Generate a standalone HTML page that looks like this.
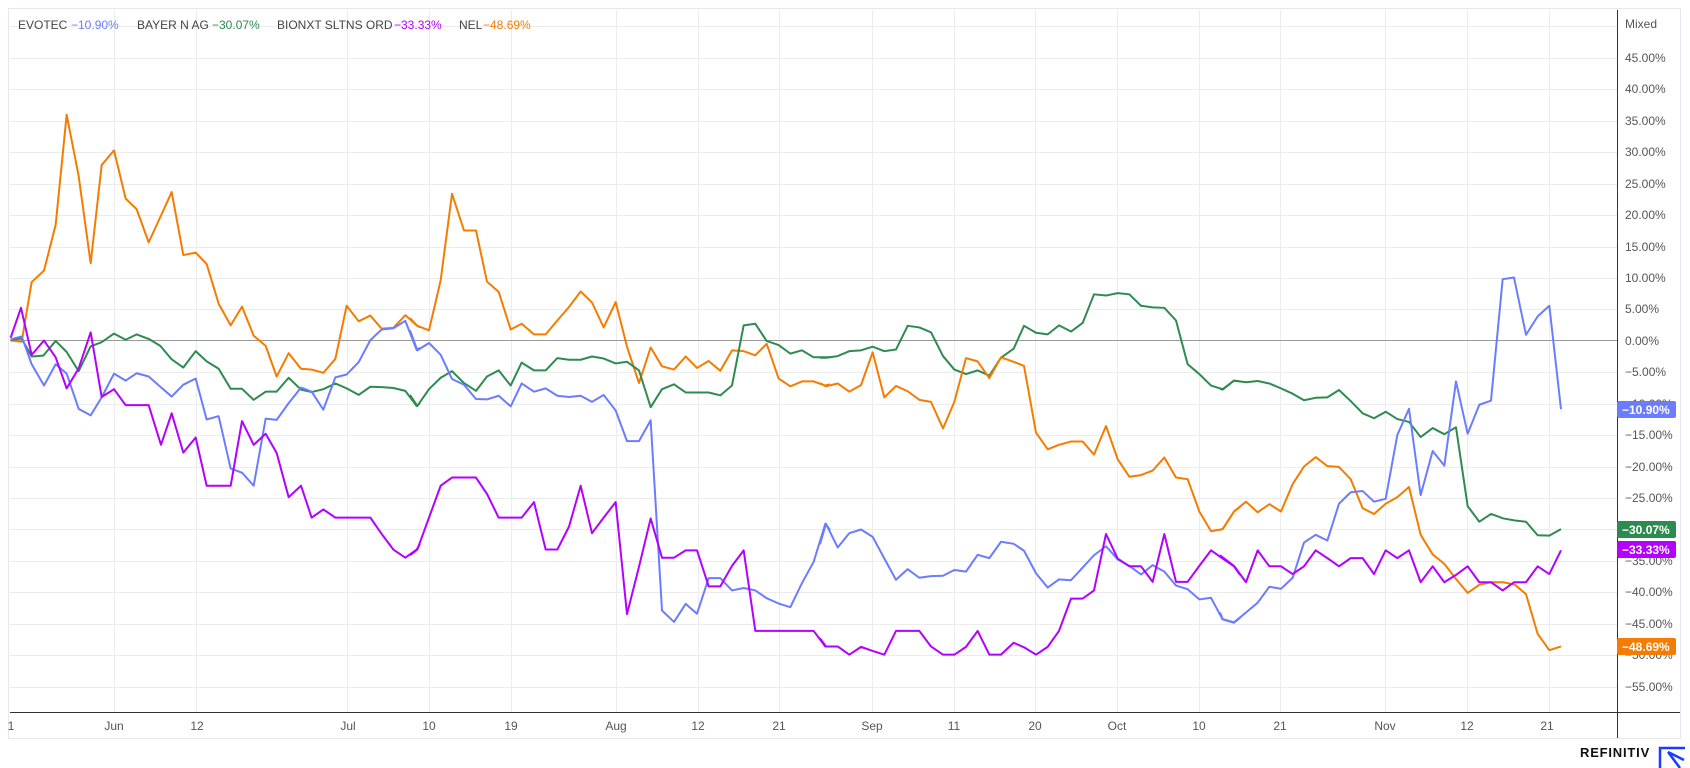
<!DOCTYPE html>
<html><head><meta charset="utf-8"><style>
html,body{margin:0;padding:0;background:#fff;}
svg{display:block;font-family:"Liberation Sans",sans-serif;}
.ser{fill:none;stroke-width:2;stroke-linejoin:round;vector-effect:non-scaling-stroke;}
</style></head><body>
<svg width="1690" height="768" viewBox="0 0 1690 768" xmlns="http://www.w3.org/2000/svg">
<rect x="8.5" y="8.5" width="1672" height="730" fill="#fff" stroke="#e6e6ec"/>
<g stroke="#ececec" stroke-width="1">
<line x1="10" x2="1617" y1="58.5" y2="58.5"/><line x1="10" x2="1617" y1="89.5" y2="89.5"/><line x1="10" x2="1617" y1="121.5" y2="121.5"/><line x1="10" x2="1617" y1="152.5" y2="152.5"/><line x1="10" x2="1617" y1="184.5" y2="184.5"/><line x1="10" x2="1617" y1="215.5" y2="215.5"/><line x1="10" x2="1617" y1="247.5" y2="247.5"/><line x1="10" x2="1617" y1="278.5" y2="278.5"/><line x1="10" x2="1617" y1="309.5" y2="309.5"/><line x1="10" x2="1617" y1="372.5" y2="372.5"/><line x1="10" x2="1617" y1="404.5" y2="404.5"/><line x1="10" x2="1617" y1="435.5" y2="435.5"/><line x1="10" x2="1617" y1="467.5" y2="467.5"/><line x1="10" x2="1617" y1="498.5" y2="498.5"/><line x1="10" x2="1617" y1="529.5" y2="529.5"/><line x1="10" x2="1617" y1="561.5" y2="561.5"/><line x1="10" x2="1617" y1="592.5" y2="592.5"/><line x1="10" x2="1617" y1="624.5" y2="624.5"/><line x1="10" x2="1617" y1="655.5" y2="655.5"/><line x1="10" x2="1617" y1="687.5" y2="687.5"/>
<line x1="10" x2="1617" y1="26.5" y2="26.5"/>
<line x1="114.5" x2="114.5" y1="10" y2="712"/><line x1="196.5" x2="196.5" y1="10" y2="712"/><line x1="347.5" x2="347.5" y1="10" y2="712"/><line x1="429.5" x2="429.5" y1="10" y2="712"/><line x1="511.5" x2="511.5" y1="10" y2="712"/><line x1="616.5" x2="616.5" y1="10" y2="712"/><line x1="698.5" x2="698.5" y1="10" y2="712"/><line x1="779.5" x2="779.5" y1="10" y2="712"/><line x1="872.5" x2="872.5" y1="10" y2="712"/><line x1="954.5" x2="954.5" y1="10" y2="712"/><line x1="1035.5" x2="1035.5" y1="10" y2="712"/><line x1="1117.5" x2="1117.5" y1="10" y2="712"/><line x1="1199.5" x2="1199.5" y1="10" y2="712"/><line x1="1280.5" x2="1280.5" y1="10" y2="712"/><line x1="1385.5" x2="1385.5" y1="10" y2="712"/><line x1="1467.5" x2="1467.5" y1="10" y2="712"/><line x1="1549.5" x2="1549.5" y1="10" y2="712"/>
</g>
<line x1="10" x2="1617" y1="340.5" y2="340.5" stroke="#9a9a9a"/>
<line x1="10" x2="1680" y1="712.5" y2="712.5" stroke="#333"/>
<line x1="1617.5" x2="1617.5" y1="10" y2="738" stroke="#333"/>

<g transform="translate(0,80) scale(0.33333,0.409)">
<polyline class="ser" stroke="#f57c00" points="32,637 65,640 95,494 132,466 167,354 200,85 236,235 272,448 305,208 342,172 377,290 410,316 446,397 481,335 515,274 550,428 587,422 620,450 656,547 692,600 726,554 761,625 797,650 830,725 866,668 903,706 935,708 970,716 1006,682 1040,552 1076,590 1111,576 1145,608 1180,606 1216,575 1250,600 1260,605"/>
<polyline class="ser" stroke="#2e8b50" points="32,635 65,632 95,676 130,674 167,638 200,665 236,712 272,651 305,641 342,620 377,635 410,622 446,633 481,650 515,683 550,703 587,663 620,688 656,706 692,755 726,755 761,782 797,762 830,762 866,728 903,757 935,763 970,756 1006,742 1040,754 1076,770 1111,750 1145,751 1180,753 1216,760 1250,797 1260,790"/>
<polyline class="ser" stroke="#6b7cff" points="32,634 65,627 95,695 132,747 167,695 200,718 236,804 272,820 305,776 342,718 377,735 410,717 446,725 481,750 515,774 550,745 587,730 620,830 656,822 692,950 726,960 761,992 797,828 830,831 866,790 903,752 935,762 970,806 1006,727 1040,720 1076,690 1111,636 1145,610 1180,607 1216,589 1250,660 1260,655"/>
<polyline class="ser" stroke="#b300ff" points="32,630 63,557 95,672 132,637 167,678 200,754 236,705 272,617 305,775 342,756 377,795 410,795 446,795 483,892 515,815 550,911 587,874 620,992 656,992 692,992 726,834 761,892 797,865 830,912 866,1020 903,992 935,1070 970,1050 1006,1070 1040,1070 1076,1070 1111,1070 1145,1110 1180,1148 1216,1168 1250,1148 1260,1135"/>
</g>
<g transform="translate(410,80) scale(0.33333,0.409)">
<polyline class="ser" stroke="#f57c00" points="0,582 22,601 57,612 92,490 126,278 162,368 198,368 231,493 266,518 302,610 335,596 372,622 407,622 442,588 477,555 512,517 546,544 581,605 617,543 651,652 687,741 722,654 756,700 792,708 827,676 861,704 896,687 931,711 966,661 1001,663 1036,673 1070,645 1106,730 1141,749 1176,737 1211,737 1246,747 1260,744"/>
<polyline class="ser" stroke="#2e8b50" points="0,770 22,797 57,756 92,728 126,712 162,741 198,760 231,725 266,710 302,747 335,691 372,710 407,710 442,680 477,684 512,684 546,676 581,681 617,693 651,689 687,710 722,800 756,756 792,744 827,764 861,764 896,764 931,771 966,747 1001,600 1036,596 1070,638 1106,648 1141,669 1176,661 1211,678 1246,678 1260,678"/>
<polyline class="ser" stroke="#6b7cff" points="0,612 22,661 57,643 92,672 126,731 162,745 198,780 231,781 266,772 302,798 335,742 372,762 407,754 442,772 477,775 512,772 546,787 581,770 617,808 651,883 687,883 722,832 756,1297 792,1325 827,1281 861,1305 896,1218 931,1218 966,1248 1001,1242 1036,1248 1070,1267 1106,1280 1141,1289 1176,1230 1211,1178 1246,1085 1260,1100"/>
<polyline class="ser" stroke="#b300ff" points="0,1162 22,1148 57,1070 92,992 126,972 162,972 198,972 231,1012 266,1070 302,1070 335,1070 372,1032 407,1148 442,1148 477,1092 512,992 546,1108 581,1070 617,1032 651,1306 687,1190 722,1072 756,1168 792,1168 827,1150 861,1150 896,1238 931,1238 966,1188 1001,1150 1036,1347 1070,1347 1106,1347 1141,1347 1176,1347 1211,1347 1246,1385 1260,1385"/>
</g>
<g transform="translate(820,80) scale(0.33333,0.409)">
<polyline class="ser" stroke="#2e8b50" points="0,679 18,679 53,675 88,663 123,661 158,652 193,663 228,659 263,601 298,605 333,617 369,675 403,708 438,719 473,710 508,723 543,679 581,657 612,601 648,618 683,622 717,600 753,615 788,594 822,524 858,527 893,521 928,524 963,552 998,556 1033,557 1068,588 1103,695 1138,719 1173,747 1208,756 1242,735 1260,737"/>
<polyline class="ser" stroke="#f57c00" points="0,741 18,749 53,742 88,762 123,746 158,666 193,776 228,748 263,761 298,782 333,787 369,852 403,787 438,680 473,688 508,729 543,678 581,689 612,699 648,862 683,903 717,892 753,884 788,884 822,916 858,846 893,927 928,970 963,966 998,955 1033,923 1068,972 1103,976 1138,1055 1173,1103 1208,1098 1242,1055 1260,1044"/>
<polyline class="ser" stroke="#6b7cff" points="0,1135 18,1085 53,1143 88,1108 123,1099 158,1117 193,1170 228,1222 263,1196 298,1217 333,1213 369,1212 403,1198 438,1202 473,1161 508,1169 543,1129 581,1134 612,1151 648,1206 683,1241 717,1221 753,1223 788,1192 822,1162 858,1140 893,1172 928,1188 963,1209 998,1186 1033,1202 1068,1236 1103,1245 1138,1270 1173,1266 1208,1319 1242,1327 1260,1315"/>
<polyline class="ser" stroke="#b300ff" points="0,1365 18,1385 53,1385 88,1405 123,1386 158,1396 193,1405 228,1347 263,1347 298,1347 333,1385 369,1405 403,1405 438,1386 473,1347 508,1405 543,1405 581,1376 612,1387 648,1405 683,1386 717,1347 753,1268 788,1268 822,1248 858,1110 893,1170 928,1189 963,1189 998,1227 1033,1110 1068,1227 1103,1227 1138,1188 1173,1150 1208,1170 1242,1189 1260,1210"/>
</g>
<g transform="translate(1220,80) scale(0.33333,0.409)">
<polyline class="ser" stroke="#2e8b50" points="0,755 8,757 42,735 78,739 113,736 148,742 183,754 218,767 252,783 287,777 322,776 357,758 392,785 428,815 462,827 497,811 532,829 567,836 602,873 638,851 673,866 708,849 743,1042 778,1080 813,1061 850,1072 885,1077 918,1080 953,1113 988,1114 1023,1098"/>
<polyline class="ser" stroke="#f57c00" points="0,1100 8,1098 42,1055 78,1031 113,1057 148,1037 183,1055 218,988 252,945 287,922 322,944 357,946 392,976 428,1047 462,1061 497,1036 532,1020 567,995 602,1112 638,1160 673,1183 708,1220 743,1254 778,1234 813,1228 850,1228 885,1234 918,1257 953,1354 988,1394 1023,1385"/>
<polyline class="ser" stroke="#6b7cff" points="0,1302 8,1318 42,1326 78,1302 113,1278 148,1239 183,1244 218,1217 252,1131 287,1112 322,1126 357,1036 392,1008 428,1005 462,1031 497,1024 532,868 567,804 602,1015 638,907 673,943 708,737 743,865 778,794 813,784 848,487 882,483 918,623 953,578 988,552 1023,805"/>
<polyline class="ser" stroke="#b300ff" points="0,1162 8,1167 42,1188 78,1228 113,1150 148,1189 183,1189 218,1208 252,1189 287,1150 322,1169 357,1189 392,1169 428,1169 462,1208 497,1150 532,1169 567,1150 602,1228 638,1189 673,1228 708,1210 743,1189 778,1228 813,1228 848,1248 882,1228 918,1228 953,1189 988,1208 1023,1150"/>
</g>

<g font-size="12" fill="#555">
<text x="1625" y="28">Mixed</text>
<text x="1625" y="62">45.00%</text><text x="1625" y="93">40.00%</text><text x="1625" y="125">35.00%</text><text x="1625" y="156">30.00%</text><text x="1625" y="188">25.00%</text><text x="1625" y="219">20.00%</text><text x="1625" y="251">15.00%</text><text x="1625" y="282">10.00%</text><text x="1625" y="313">5.00%</text><text x="1625" y="345">0.00%</text><text x="1625" y="376">−5.00%</text><text x="1625" y="408">−10.00%</text><text x="1625" y="439">−15.00%</text><text x="1625" y="471">−20.00%</text><text x="1625" y="502">−25.00%</text><text x="1625" y="533">−30.00%</text><text x="1625" y="565">−35.00%</text><text x="1625" y="596">−40.00%</text><text x="1625" y="628">−45.00%</text><text x="1625" y="659">−50.00%</text><text x="1625" y="691">−55.00%</text>
</g>
<g font-size="12" font-weight="bold" fill="#fff">
<rect x="1617" y="401" width="59" height="17" rx="2" fill="#6b7cff"/><text x="1622" y="414">−10.90%</text>
<rect x="1617" y="521" width="59" height="17" rx="2" fill="#2e8b50"/><text x="1622" y="534">−30.07%</text>
<rect x="1617" y="541" width="59" height="17" rx="2" fill="#b300ff"/><text x="1622" y="554">−33.33%</text>
<rect x="1617" y="638" width="59" height="17" rx="2" fill="#f57c00"/><text x="1622" y="651">−48.69%</text>
</g>
<g font-size="12" fill="#555" text-anchor="middle">
<text x="11" y="730">1</text><text x="114" y="730">Jun</text><text x="197" y="730">12</text><text x="348" y="730">Jul</text><text x="429" y="730">10</text><text x="511" y="730">19</text><text x="616" y="730">Aug</text><text x="698" y="730">12</text><text x="779" y="730">21</text><text x="872" y="730">Sep</text><text x="954" y="730">11</text><text x="1035" y="730">20</text><text x="1117" y="730">Oct</text><text x="1199" y="730">10</text><text x="1280" y="730">21</text><text x="1385" y="730">Nov</text><text x="1467" y="730">12</text><text x="1547" y="730">21</text>
</g>
<g font-size="12">
<text x="18" y="29" fill="#444">EVOTEC</text><text x="71" y="29" fill="#6b7cff">−10.90%</text>
<text x="137" y="29" fill="#444">BAYER N AG</text><text x="212" y="29" fill="#2e8b50">−30.07%</text>
<text x="277" y="29" fill="#444">BIONXT SLTNS ORD</text><text x="394" y="29" fill="#b300ff">−33.33%</text>
<text x="459" y="29" fill="#444">NEL</text><text x="483" y="29" fill="#f57c00">−48.69%</text>
</g>
<text x="1580" y="757" font-size="13" font-weight="bold" fill="#111" letter-spacing="0.8">REFINITIV</text>
<path d="M1660 768 V748 H1685 M1668 752 L1684 760 M1668 752 L1680 768" fill="none" stroke="#1a3cff" stroke-width="2.5"/>
</svg>
</body></html>
